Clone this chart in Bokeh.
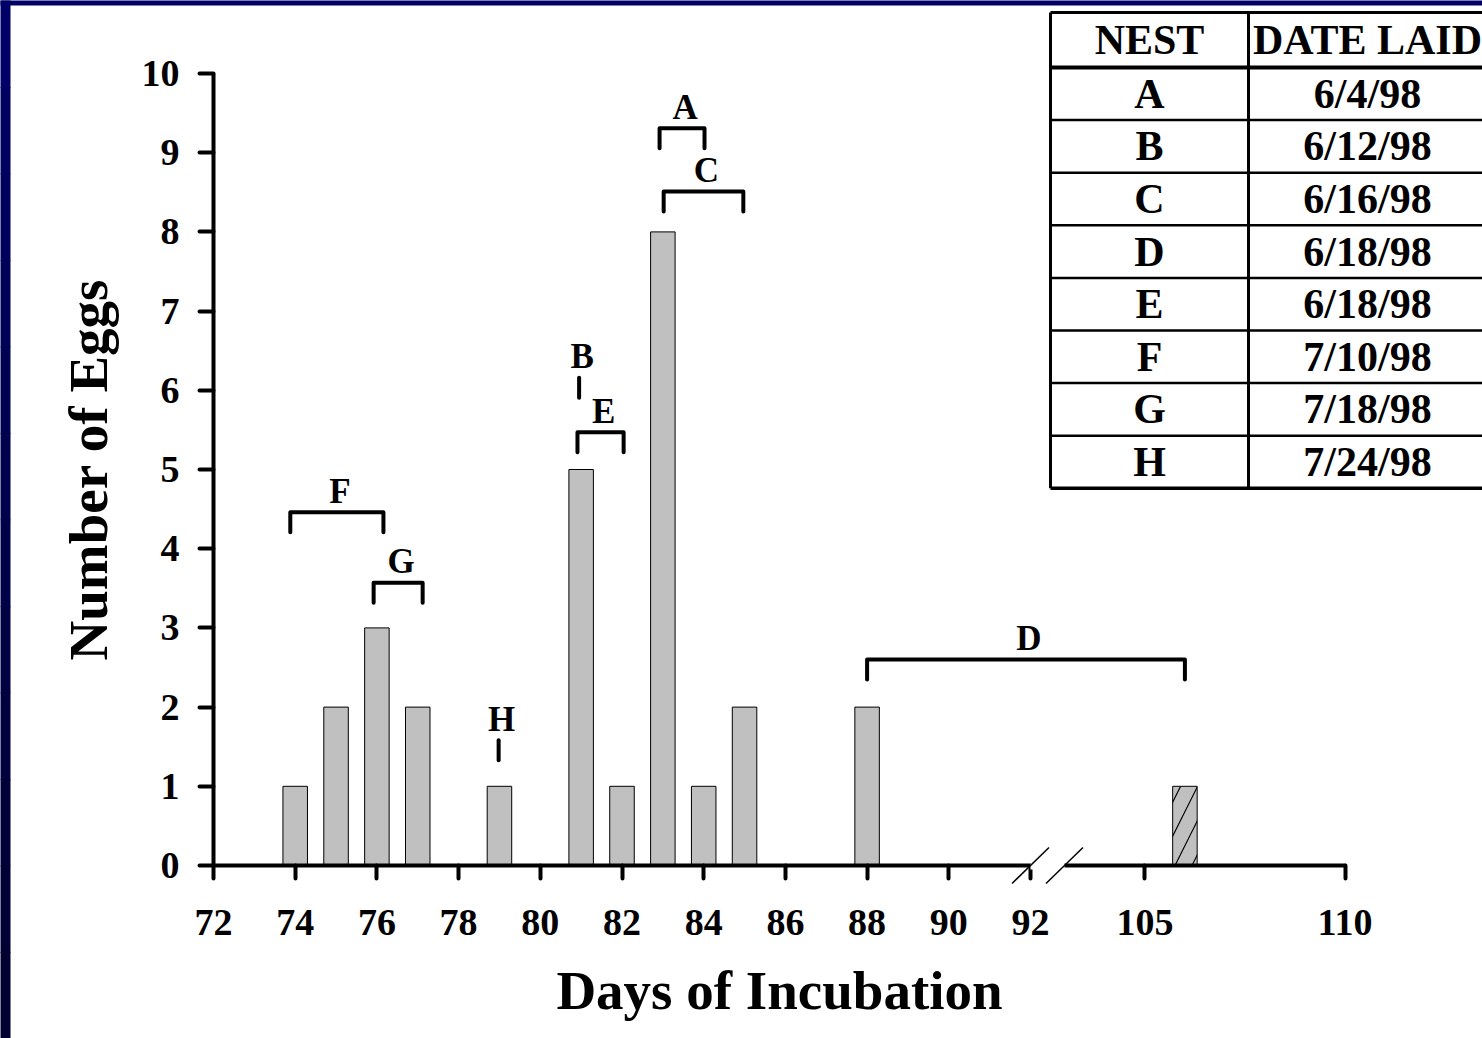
from bokeh.plotting import figure
from bokeh.models import Range1d, FixedTicker
from bokeh.embed import file_html
from bokeh.resources import INLINE
from bokeh.core.properties import value

# ---------------- data ----------------
days = [74, 75, 76, 77, 79, 81, 82, 83, 84, 85, 88, 106]
eggs = [1, 2, 3, 2, 1, 5, 1, 8, 1, 2, 2, 1]
hatched_days = [106]

nests = ["A", "B", "C", "D", "E", "F", "G", "H"]
dates_laid = ["6/4/98", "6/12/98", "6/16/98", "6/18/98",
              "6/18/98", "7/10/98", "7/18/98", "7/24/98"]
# hatching window of each nest (days of incubation) and the height of its bracket
bracket_start = [82.92, 80.95, 83.02, 88.0, 80.91, 73.88, 75.92, 78.98]
bracket_end = [84.02, 80.95, 84.97, 106.0, 82.04, 76.16, 77.12, 78.98]
bracket_level = [9.31, 6.16, 8.51, 2.60, 5.47, 4.46, 3.57, 1.58]

x_tick_days = [72, 74, 76, 78, 80, 82, 84, 86, 88, 90, 92, 105, 110]
y_ticks = [0, 1, 2, 3, 4, 5, 6, 7, 8, 9, 10]

# ---------------- layout ----------------
W, H = 1482, 1038
OFF = 0
ORIGIN_SX, ORIGIN_SY = 213, 865  # screen position of (72, 0)
PX_X, PX_Y = 40.85, 79.2
BREAK_LO, BREAK_HI = 92, 105
HI_POS0, HI_SCALE = 94.8, 0.98

def pos(d):
    return d if d <= BREAK_LO else HI_POS0 + (d - BREAK_HI) * HI_SCALE

x_start = 72 - (ORIGIN_SX - OFF) / PX_X
x_end = x_start + W / PX_X
y_end = (ORIGIN_SY - OFF) / PX_Y
y_start = y_end - H / PX_Y

def sx2x(sx):
    return x_start + (sx - OFF) / PX_X

def sy2y(sy):
    return y_end - (sy - OFF) / PX_Y

FONT = "Liberation Serif"

p = figure(width=W, height=H, output_backend="svg", toolbar_location=None,
           x_range=Range1d(x_start, x_end), y_range=Range1d(y_start, y_end),
           min_border=0, min_border_left=0, min_border_right=0,
           min_border_top=0, min_border_bottom=0)
p.outline_line_color = None
p.xgrid.visible = False
p.ygrid.visible = False
p.background_fill_color = "white"
p.border_fill_color = "white"

# ---------------- axes ----------------
xt_pos = [pos(d) for d in x_tick_days]
xa = p.xaxis[0]
xa.fixed_location = 0
xa.bounds = (pos(x_tick_days[0]), pos(x_tick_days[-1]))
xa.ticker = FixedTicker(ticks=xt_pos)
xa.major_label_overrides = {tp: str(d) for tp, d in zip(xt_pos, x_tick_days)}
xa.axis_label = "Days of Incubation"

ya = p.yaxis[0]
ya.fixed_location = 72
ya.bounds = (0, 10)
ya.ticker = FixedTicker(ticks=y_ticks)
ya.axis_label = "Number of Eggs"

for ax in (xa, ya):
    ax.axis_line_width = 4
    ax.axis_line_color = "black"
    ax.major_tick_line_width = 4
    ax.major_tick_line_color = "black"
    ax.major_tick_line_cap = "round"
    ax.major_tick_in = 0
    ax.minor_tick_line_color = None
    ax.major_label_text_font = FONT
    ax.major_label_text_font_style = "bold"
    ax.major_label_text_font_size = "38px"
    ax.major_label_text_color = "black"
    ax.axis_label_text_font = FONT
    ax.axis_label_text_font_style = "bold"
    ax.axis_label_text_font_size = "55px"
    ax.axis_label_text_color = "black"
xa.major_tick_out = 13
ya.major_tick_out = 14
xa.major_label_standoff = 31
ya.major_label_standoff = 20
xa.axis_label_standoff = 22
ya.axis_label_standoff = 20
ya.major_label_orientation = "horizontal"

# ---------------- bars ----------------
plain_x = [pos(d) for d in days if d not in hatched_days]
plain_top = [e for d, e in zip(days, eggs) if d not in hatched_days]
hat_x = [pos(d) for d in days if d in hatched_days]
hat_top = [e for d, e in zip(days, eggs) if d in hatched_days]

p.vbar(x=plain_x, top=plain_top, bottom=0, width=0.6,
       fill_color="#c0c0c0", line_color="black", line_width=1)
p.vbar(x=hat_x, top=hat_top, bottom=0, width=0.6,
       fill_color="#c0c0c0", line_color="black", line_width=1,
       hatch_pattern="/", hatch_color="black", hatch_weight=1.2, hatch_scale=34)

# ---------------- nest brackets ----------------
DROP = 20 / PX_Y
bxs, bys = [], []
for s, e, lv in zip(bracket_start, bracket_end, bracket_level):
    x0, x1 = pos(s), pos(e)
    if abs(x1 - x0) < 1e-9:
        bxs.append([x0, x0])
        bys.append([lv - DROP, lv])
    else:
        bxs.append([x0, x0, x1, x1])
        bys.append([lv - DROP, lv, lv, lv - DROP])
p.multi_line(xs=bxs, ys=bys, line_color="black", line_width=4,
             line_cap="round", line_join="round")

lab_x = [(pos(s) + pos(e)) / 2 + 3 / PX_X for s, e in zip(bracket_start, bracket_end)]
lab_y = [lv + 21 / PX_Y for lv in bracket_level]
p.text(x=lab_x, y=lab_y, text=nests, text_align="center",
       text_baseline="alphabetic", text_font=value(FONT),
       text_font_style="bold", text_font_size="35px", text_color="black")

# ---------------- axis break ----------------
BREAK_SX = 1047
gap_half = 17
p.quad(left=[sx2x(BREAK_SX - gap_half)], right=[sx2x(BREAK_SX + gap_half)],
       bottom=[-4 / PX_Y], top=[4 / PX_Y], fill_color="white", line_color=None,
       level="overlay")
sl_xs, sl_ys = [], []
for c in (BREAK_SX - gap_half, BREAK_SX + gap_half):
    sl_xs.append([sx2x(c - 18.5), sx2x(c + 18.5)])
    sl_ys.append([-18 / PX_Y, 18 / PX_Y])
p.multi_line(xs=sl_xs, ys=sl_ys, line_color="black", line_width=1.5, level="overlay")

# ---------------- table ----------------
T_LEFT, T_MID, T_RIGHT = 1050, 1248, 1486
T_TOP, T_HDR = 12, 67
ROW_H = 52.6
n_rows = len(nests)
T_BOT = T_HDR + n_rows * ROW_H

h_lines = [T_TOP, T_HDR] + [T_HDR + k * ROW_H for k in range(1, n_rows + 1)]
h_widths = [3, 4] + [2.5] * (n_rows - 1) + [3.5]
p.segment(x0=[sx2x(T_LEFT)] * len(h_lines), x1=[sx2x(T_RIGHT)] * len(h_lines),
          y0=[sy2y(v) for v in h_lines], y1=[sy2y(v) for v in h_lines],
          line_color="black", line_width=h_widths)
v_lines = [T_LEFT, T_MID, T_RIGHT]
p.segment(x0=[sx2x(v) for v in v_lines], x1=[sx2x(v) for v in v_lines],
          y0=[sy2y(T_TOP)] * 3, y1=[sy2y(T_BOT)] * 3,
          line_color="black", line_width=[3, 3, 3])

c1 = sx2x((T_LEFT + T_MID) / 2)
c2 = sx2x((T_MID + T_RIGHT) / 2)
hdr_y = sy2y((T_TOP + T_HDR) / 2)
row_y = [sy2y(T_HDR + (k + 0.5) * ROW_H) for k in range(n_rows)]
p.text(x=[c1, c2] + [c1] * n_rows + [c2] * n_rows,
       y=[hdr_y, hdr_y] + row_y + row_y,
       text=["NEST", "DATE LAID"] + nests + dates_laid,
       text_align="center", text_baseline="middle", text_font=value(FONT),
       text_font_style="bold", text_font_size="42px", text_color="black")

# slide frame (dark blue band at the top and on the left)
N_SEG = 12
seg_h = H / N_SEG
strip_l, strip_r, strip_b, strip_t, strip_c = [], [], [], [], []
for k in range(N_SEG):
    shade = int(0x66 - (0x66 - 0x30) * k / (N_SEG - 1))
    strip_l.append(sx2x(0))
    strip_r.append(sx2x(10))
    strip_t.append(sy2y(k * seg_h))
    strip_b.append(sy2y((k + 1) * seg_h) - 0.01)
    strip_c.append("#0000%02x" % shade)
strip_l.append(sx2x(0))
strip_r.append(sx2x(W))
strip_t.append(sy2y(0))
strip_b.append(sy2y(5))
strip_c.append("#000066")
p.quad(left=strip_l, right=strip_r, bottom=strip_b, top=strip_t,
       fill_color=strip_c, line_color=None, level="overlay")

open("out.html", "w").write(file_html(p, INLINE))
